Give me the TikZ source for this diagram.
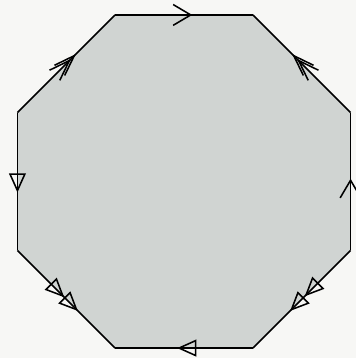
\documentclass[tikz,border=0pt]{standalone}
\usepackage{xcolor}
\usepackage{tikz}
\usetikzlibrary{arrows.meta, decorations.markings}
\definecolor{paper}{RGB}{247,247,245}
\definecolor{sheet}{RGB}{208,212,210}

\begin{document}
\begin{tikzpicture}[
    x=0.025cm, y=0.025cm,
    side/.style={line width=1.1pt, line join=round},
    onevee/.style={postaction={decorate}, decoration={markings,
        mark=at position #1 with {\arrow{Straight Barb[length=4.4mm,width=5.2mm,line width=1.1pt]}}}},
    twovee/.style 2 args={postaction={decorate}, decoration={markings,
        mark=at position #1 with {\arrow{Straight Barb[length=5.2mm,width=3.6mm,line width=1.1pt]}},
        mark=at position #2 with {\arrow{Straight Barb[length=5.2mm,width=3.6mm,line width=1.1pt]}}}},
    onetri/.style={postaction={decorate}, decoration={markings,
        mark=at position #1 with {\arrow{Triangle[open,length=4.8mm,width=4.2mm,line width=1.1pt]}}}},
    twotri/.style 2 args={postaction={decorate}, decoration={markings,
        mark=at position #1 with {\arrow{Triangle[open,length=4.8mm,width=4.2mm,line width=1.1pt]}},
        mark=at position #2 with {\arrow{Triangle[open,length=4.8mm,width=4.2mm,line width=1.1pt]}}}}
]
    % paper and frame
    \fill[paper] (-184,-176.5) rectangle (172,181.5);
    \useasboundingbox (-184,-176.5) rectangle (172,181.5);

    % corners of the octagon
    \foreach \k in {1,...,8}
        \coordinate (p\k) at ({22.5+45*(\k-1)}:180.3);

    \fill[sheet] (p1) -- (p2) -- (p3) -- (p4) -- (p5) -- (p6) -- (p7) -- (p8) -- cycle;

    % sides, glued in pairs
    \draw[side, onevee=0.56] (p3) -- (p2);
    \draw[side, onevee=0.52] (p8) -- (p1);
    \draw[side, twovee={0.55}{0.60}] (p4) -- (p3);
    \draw[side, twovee={0.55}{0.60}] (p1) -- (p2);
    \draw[side, onetri=0.58] (p4) -- (p5);
    \draw[side, onetri=0.55] (p7) -- (p6);
    \draw[side, twotri={0.48}{0.62}] (p5) -- (p6);
    \draw[side, twotri={0.47}{0.62}] (p8) -- (p7);

\end{tikzpicture}
\end{document}
